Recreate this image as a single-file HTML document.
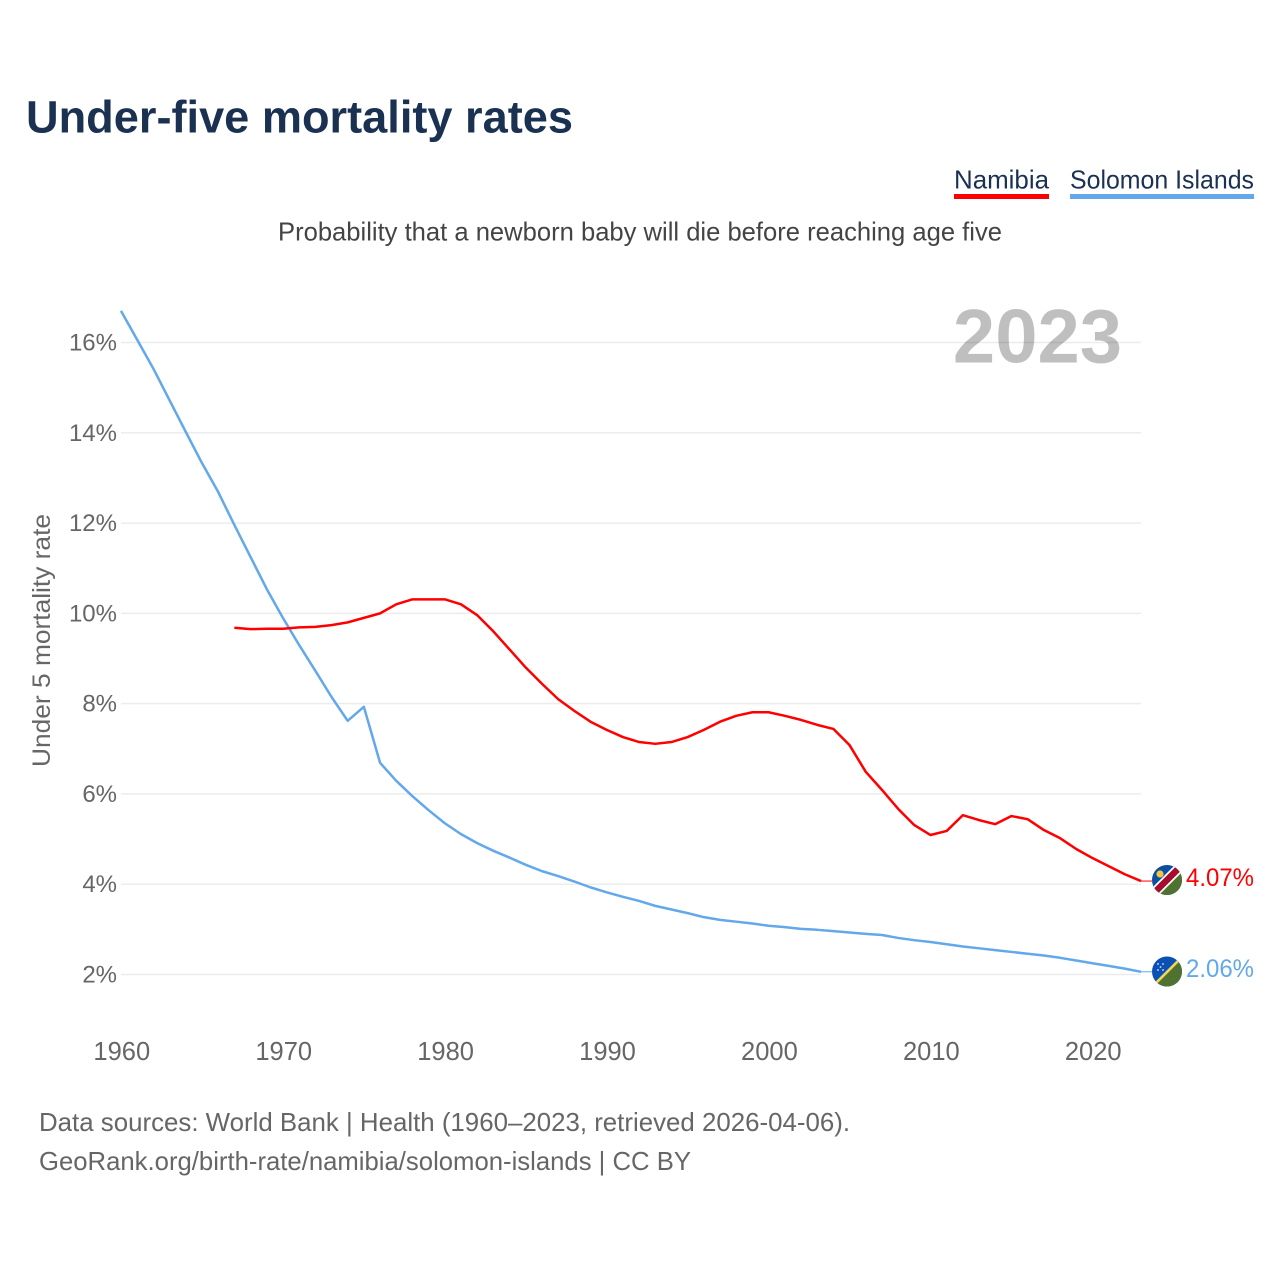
<!DOCTYPE html>
<html lang="en">
<head>
<meta charset="utf-8">
<title>Under-five mortality rates</title>
<style>
html,body{margin:0;padding:0;background:#fff;width:1280px;height:1280px;overflow:hidden}
svg{display:block;font-family:"Liberation Sans",sans-serif}
</style>
</head>
<body>
<svg id="chart" width="1280" height="1280" viewBox="0 0 1280 1280" xmlns="http://www.w3.org/2000/svg">
  <defs>
    <clipPath id="clip-na"><circle cx="1167" cy="880" r="15"/></clipPath>
    <clipPath id="clip-sb"><circle cx="1167" cy="971.5" r="15"/></clipPath>
  </defs>
  <rect width="1280" height="1280" fill="#fff"/>
  <text x="26" y="132.5" font-size="45" font-weight="700" fill="#1a3152" textLength="547" lengthAdjust="spacingAndGlyphs">Under-five mortality rates</text>

  <g>
    <text x="954" y="188.5" font-size="26" fill="#1a3152" textLength="95" lengthAdjust="spacingAndGlyphs">Namibia</text>
    <rect x="954" y="194" width="95" height="5" fill="#ff0000"/>
  </g>
  <g>
    <text x="1070" y="188.5" font-size="26" fill="#1a3152" textLength="184" lengthAdjust="spacingAndGlyphs">Solomon Islands</text>
    <rect x="1070" y="194" width="184" height="5" fill="#62a8ea"/>
  </g>

  <text x="278" y="240.5" font-size="26" fill="#444" textLength="724" lengthAdjust="spacingAndGlyphs">Probability that a newborn baby will die before reaching age five</text>

  <g id="grid"></g>
  <text x="1122" y="362.5" text-anchor="end" font-size="76" font-weight="700" fill="#000" fill-opacity="0.25">2023</text>
  <g id="y-ticks"></g>
  <g id="x-ticks"></g>
  <text transform="translate(50 640.5) rotate(-90)" text-anchor="middle" font-size="25" fill="#666" textLength="253" lengthAdjust="spacingAndGlyphs">Under 5 mortality rate</text>
  <g id="series"></g>

  <g clip-path="url(#clip-na)">
    <rect x="1150" y="863" width="34" height="34" fill="#0b4ea2"/>
    <polygon points="1150,897 1184,863 1184,897" fill="#4f7230"/>
    <line x1="1150" y1="897" x2="1184" y2="863" stroke="#fff" stroke-width="10"/>
    <line x1="1150" y1="897" x2="1184" y2="863" stroke="#a50d2d" stroke-width="6.5"/>
    <circle cx="1160" cy="874" r="3.6" fill="#f4c63d"/>
  </g>
  <g clip-path="url(#clip-sb)">
    <rect x="1150" y="954" width="34" height="36" fill="#0b50b5"/>
    <polygon points="1150,988.5 1184,954.5 1184,988.5" fill="#4f7230"/>
    <line x1="1152" y1="987" x2="1184" y2="955" stroke="#f3d558" stroke-width="2.6"/>
    <g fill="#dfe8f7">
      <circle cx="1158" cy="964" r="0.9"/><circle cx="1163" cy="964" r="0.9"/><circle cx="1160.5" cy="967" r="0.9"/><circle cx="1158" cy="970" r="0.9"/><circle cx="1163" cy="970" r="0.9"/>
    </g>
  </g>

  <text x="1186" y="886" font-size="25" fill="#ff0000" textLength="68" lengthAdjust="spacingAndGlyphs">4.07%</text>
  <text x="1186" y="977" font-size="25" fill="#62a8ea" textLength="68" lengthAdjust="spacingAndGlyphs">2.06%</text>

  <text x="39" y="1131" font-size="26" fill="#666" textLength="811" lengthAdjust="spacingAndGlyphs">Data sources: World Bank | Health (1960–2023, retrieved 2026-04-06).</text>
  <text x="39" y="1170" font-size="26" fill="#666" textLength="652" lengthAdjust="spacingAndGlyphs">GeoRank.org/birth-rate/namibia/solomon-islands | CC BY</text>
</svg>
<script>
const firstYear = 1960;
const lastYear = 2023;
const yTickValues = [2, 4, 6, 8, 10, 12, 14, 16];
const yTickLabels = ["2%", "4%", "6%", "8%", "10%", "12%", "14%", "16%"];
const xTickValues = [1960, 1970, 1980, 1990, 2000, 2010, 2020];
const xTickLabels = ["1960", "1970", "1980", "1990", "2000", "2010", "2020"];

const solomonStartYear = 1960;
const solomonValues = [
  16.70, 16.06, 15.42, 14.72, 14.02, 13.33, 12.69, 11.96, 11.25, 10.54,
  9.90, 9.30, 8.73, 8.15, 7.62, 7.93, 6.69, 6.29, 5.95, 5.64,
  5.35, 5.11, 4.91, 4.74, 4.59, 4.43, 4.29, 4.18, 4.06, 3.93,
  3.82, 3.72, 3.63, 3.52, 3.44, 3.36, 3.27, 3.21, 3.17, 3.13,
  3.08, 3.05, 3.01, 2.99, 2.96, 2.93, 2.90, 2.875, 2.81, 2.76,
  2.72, 2.67, 2.62, 2.58, 2.54, 2.50, 2.46, 2.42, 2.37, 2.31,
  2.25, 2.19, 2.13, 2.06
];

const namibiaStartYear = 1967;
const namibiaValues = [
  9.68, 9.65, 9.66, 9.66, 9.69, 9.70, 9.74, 9.80, 9.90, 10.00,
  10.20, 10.31, 10.31, 10.31, 10.20, 9.96, 9.60, 9.20, 8.80, 8.44,
  8.10, 7.84, 7.60, 7.42, 7.26, 7.15, 7.11, 7.15, 7.26, 7.42,
  7.60, 7.73, 7.81, 7.81, 7.73, 7.64, 7.53, 7.44, 7.08, 6.49,
  6.09, 5.67, 5.31, 5.09, 5.18, 5.53, 5.42, 5.33, 5.51, 5.44,
  5.20, 5.02, 4.78, 4.58, 4.40, 4.22, 4.07
];

const xScale = function (year) {
  return 121 + (year - firstYear) * (1141 - 121) / (lastYear - firstYear);
};
const yScale = function (value) {
  return 974.5 - (value - 2) * (974.5 - 342.5) / 14;
};

const NS = "http://www.w3.org/2000/svg";
const grid = document.getElementById("grid");
const yTicks = document.getElementById("y-ticks");
const xTicks = document.getElementById("x-ticks");
const seriesGroup = document.getElementById("series");

yTickValues.forEach(function (value, i) {
  const line = document.createElementNS(NS, "line");
  line.setAttribute("x1", 121);
  line.setAttribute("x2", 1141);
  line.setAttribute("y1", yScale(value));
  line.setAttribute("y2", yScale(value));
  line.setAttribute("stroke", "#ececec");
  line.setAttribute("stroke-width", "1.5");
  
  
  grid.appendChild(line);

  const label = document.createElementNS(NS, "text");
  label.setAttribute("x", 117);
  label.setAttribute("y", yScale(value) + 8);
  label.setAttribute("text-anchor", "end");
  label.setAttribute("font-size", "24");
  label.setAttribute("fill", "#666");
  label.textContent = yTickLabels[i];
  
  
  yTicks.appendChild(label);
});

xTickValues.forEach(function (year, i) {
  const label = document.createElementNS(NS, "text");
  label.setAttribute("x", xScale(year) + 0.8);
  label.setAttribute("y", 1060);
  label.setAttribute("text-anchor", "middle");
  label.setAttribute("font-size", "25.5");
  label.setAttribute("fill", "#666");
  label.textContent = xTickLabels[i];
  
  
  xTicks.appendChild(label);
});

function linePoints(startYear, values) {
  return values.map(function (value, i) {
    return xScale(startYear + i).toFixed(2) + "," + yScale(value).toFixed(2);
  }).join(" ");
}

const solomonLine = document.createElementNS(NS, "polyline");
solomonLine.setAttribute("points", linePoints(solomonStartYear, solomonValues));
solomonLine.setAttribute("fill", "none");
solomonLine.setAttribute("stroke", "#62a8ea");
solomonLine.setAttribute("stroke-width", "2.5");
solomonLine.setAttribute("stroke-linejoin", "round");


seriesGroup.appendChild(solomonLine);

const namibiaLine = document.createElementNS(NS, "polyline");
namibiaLine.setAttribute("points", linePoints(namibiaStartYear, namibiaValues));
namibiaLine.setAttribute("fill", "none");
namibiaLine.setAttribute("stroke", "#ff0000");
namibiaLine.setAttribute("stroke-width", "2.5");
namibiaLine.setAttribute("stroke-linejoin", "round");


seriesGroup.appendChild(namibiaLine);

const namibiaConnector = document.createElementNS(NS, "line");
namibiaConnector.setAttribute("x1", xScale(lastYear));
namibiaConnector.setAttribute("x2", 1152);
namibiaConnector.setAttribute("y1", yScale(namibiaValues[namibiaValues.length - 1]));
namibiaConnector.setAttribute("y2", yScale(namibiaValues[namibiaValues.length - 1]));
namibiaConnector.setAttribute("stroke", "#ff0000");
namibiaConnector.setAttribute("stroke-width", "1");


seriesGroup.appendChild(namibiaConnector);

const solomonConnector = document.createElementNS(NS, "line");
solomonConnector.setAttribute("x1", xScale(lastYear));
solomonConnector.setAttribute("x2", 1152);
solomonConnector.setAttribute("y1", yScale(solomonValues[solomonValues.length - 1]));
solomonConnector.setAttribute("y2", yScale(solomonValues[solomonValues.length - 1]));
solomonConnector.setAttribute("stroke", "#62a8ea");
solomonConnector.setAttribute("stroke-width", "1");


seriesGroup.appendChild(solomonConnector);
</script>
</body>
</html>
